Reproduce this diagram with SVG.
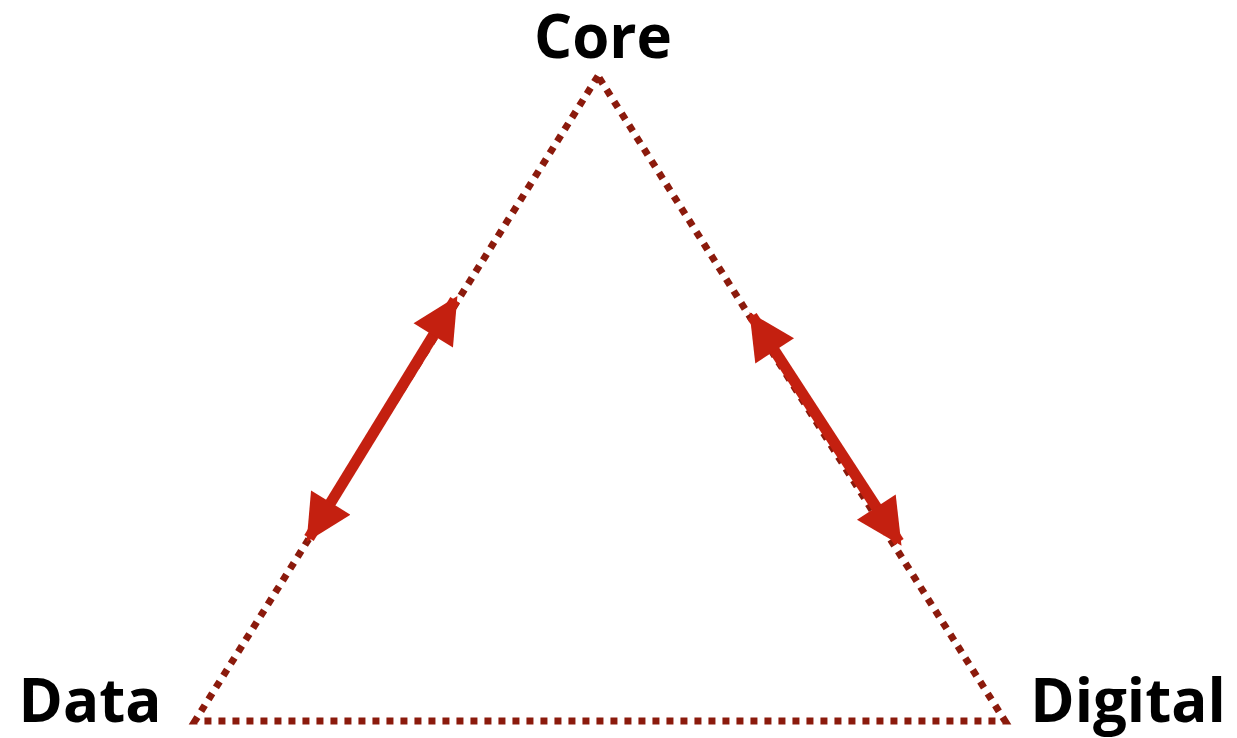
<svg xmlns="http://www.w3.org/2000/svg" width="1237" height="738" viewBox="0 0 1237 738">
<style>
.lbl{font-family:"Open Sans","Liberation Sans",sans-serif;font-weight:bold;font-size:60px;fill:#000}
.edge{fill:none;stroke:#8B1A0C;stroke-width:7;stroke-dasharray:7 7}
.arr{fill:none;stroke:#C42010;stroke-width:11}
</style>
<defs>
<marker id="ah" viewBox="0 0 10 10" refX="9" refY="5" markerWidth="4.6" markerHeight="4.2" markerUnits="strokeWidth" orient="auto-start-reverse">
<path d="M0,0 L10,5 L0,10 z" fill="#C42010"/>
</marker>
</defs>
<g id="connectors">
<path class="edge" d="M598,76 L195,721 L1005,721 Z"/>
<line class="arr" x1="309" y1="538" x2="455" y2="300" marker-start="url(#ah)" marker-end="url(#ah)"/>
<line class="arr" x1="752" y1="316" x2="899" y2="542" marker-start="url(#ah)" marker-end="url(#ah)"/>
</g>
<g id="core"><text class="lbl" x="603" y="58" text-anchor="middle">Core</text></g>
<g id="data"><text class="lbl" x="90" y="722" text-anchor="middle">Data</text></g>
<g id="digital"><text class="lbl" x="1128" y="722" text-anchor="middle">Digital</text></g>
</svg>
